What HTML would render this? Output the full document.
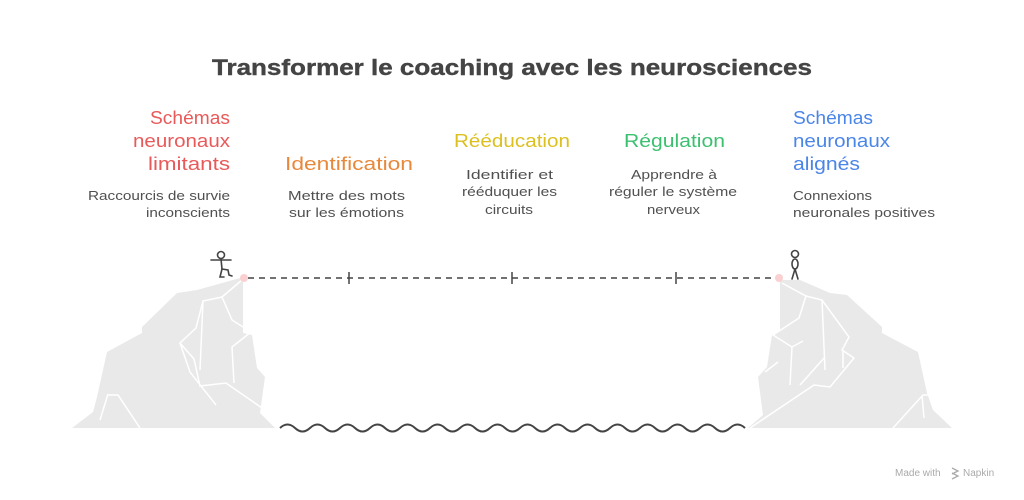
<!DOCTYPE html>
<html><head><meta charset="utf-8"><style>
html,body{margin:0;padding:0;background:#fff;}
svg{display:block;font-family:"Liberation Sans",sans-serif;}
.h{font-size:18px;}
.d{font-size:13px;fill:#505050;}
</style></head><body>
<svg width="1024" height="500" viewBox="0 0 1024 500" xmlns="http://www.w3.org/2000/svg">
<text x="212" y="75" font-size="22" font-weight="bold" fill="#444" stroke="#444" stroke-width="0.4" textLength="600" lengthAdjust="spacingAndGlyphs">Transformer le coaching avec les neurosciences</text>

<g class="h" fill="#e85a5a">
<text x="150" y="124" textLength="80" lengthAdjust="spacingAndGlyphs">Schémas</text>
<text x="133" y="147" textLength="97" lengthAdjust="spacingAndGlyphs">neuronaux</text>
<text x="148" y="170" textLength="82" lengthAdjust="spacingAndGlyphs">limitants</text>
</g>
<text class="h" fill="#e8883a" x="285" y="170" textLength="128" lengthAdjust="spacingAndGlyphs">Identification</text>
<text class="h" fill="#dcc020" x="454" y="147" textLength="116" lengthAdjust="spacingAndGlyphs">Rééducation</text>
<text class="h" fill="#3cc070" x="624" y="147" textLength="101" lengthAdjust="spacingAndGlyphs">Régulation</text>
<g class="h" fill="#4a85e8">
<text x="793" y="124" textLength="80" lengthAdjust="spacingAndGlyphs">Schémas</text>
<text x="793" y="147" textLength="97" lengthAdjust="spacingAndGlyphs">neuronaux</text>
<text x="793" y="170" textLength="67" lengthAdjust="spacingAndGlyphs">alignés</text>
</g>

<g class="d">
<text x="88" y="200" textLength="142" lengthAdjust="spacingAndGlyphs">Raccourcis de survie</text>
<text x="146" y="217" textLength="84" lengthAdjust="spacingAndGlyphs">inconscients</text>
<text x="288" y="200" textLength="117" lengthAdjust="spacingAndGlyphs">Mettre des mots</text>
<text x="289" y="217" textLength="115" lengthAdjust="spacingAndGlyphs">sur les émotions</text>
<text x="466" y="179" textLength="87" lengthAdjust="spacingAndGlyphs">Identifier et</text>
<text x="462" y="196" textLength="95" lengthAdjust="spacingAndGlyphs">rééduquer les</text>
<text x="485" y="214" textLength="48" lengthAdjust="spacingAndGlyphs">circuits</text>
<text x="631" y="179" textLength="86" lengthAdjust="spacingAndGlyphs">Apprendre à</text>
<text x="609" y="196" textLength="128" lengthAdjust="spacingAndGlyphs">réguler le système</text>
<text x="647" y="214" textLength="53" lengthAdjust="spacingAndGlyphs">nerveux</text>
<text x="793" y="200" textLength="79" lengthAdjust="spacingAndGlyphs">Connexions</text>
<text x="793" y="217" textLength="142" lengthAdjust="spacingAndGlyphs">neuronales positives</text>
</g>

<!-- cliffs -->
<polygon fill="#e9e9e9" points="72,428 93,412 97,397 107,352 142,333 142,327 177,293 197,290 240,278 243,278 243,333 252,335 257,368 265,377 260,413 275,428"/>
<g stroke="#fff" stroke-width="1.5" fill="none">
<polyline points="242,280 222,297 203,301 196,328 180,343 194,359 200,386 226,383 262,408"/>
<polyline points="203,301 200,370"/>
<polyline points="222,297 232,320 251,332"/>
<polyline points="251,332 232,347 234,383"/>
<polyline points="180,343 190,372 216,405"/>
<path d="M108,394 L100,420 M108,395 L118,395 L140,428"/>
</g>
<polygon fill="#e9e9e9" points="780,280 800,280 830,293 847,295 882,327 882,333 918,352 927,393 933,410 952,428 748,428 763,415 758,377 767,367 772,335 780,330"/>
<g stroke="#fff" stroke-width="1.5" fill="none">
<polyline points="782,283 806,296 822,300 849,337 842,350 854,358 830,387 814,385 750,428"/>
<polyline points="822,300 825,370"/>
<polyline points="806,296 799,318 773,335 792,347 790,385"/>
<polyline points="792,347 803,341"/>
<polyline points="843,350 843,368"/>
<polyline points="825,357 800,385"/>
<polyline points="778,362 765,372"/>
<path d="M923,395 L893,428 M923,395 L928,395 M922,395 L924,418"/>
</g>

<!-- dashed line -->
<line x1="248" y1="278" x2="775" y2="278" stroke="#444" stroke-width="1.5" stroke-dasharray="6,5"/>
<g stroke="#444" stroke-width="1.5">
<line x1="349" y1="272" x2="349" y2="284"/>
<line x1="512" y1="272" x2="512" y2="284"/>
<line x1="676" y1="272" x2="676" y2="284"/>
</g>
<circle cx="244" cy="278" r="4" fill="#fbd0d0"/>
<circle cx="779" cy="278" r="4" fill="#fbd0d0"/>

<!-- stick figures -->
<g stroke="#444" stroke-width="1.6" fill="none" stroke-linecap="round">
<circle cx="221" cy="255" r="3.5"/>
<line x1="221" y1="259" x2="222" y2="269"/>
<line x1="211" y1="260" x2="231" y2="260"/>
<polyline points="222,269 220,277 224,277"/>
<polyline points="222,269 228,270 229,275 232,276"/>
<circle cx="795" cy="254" r="3.5"/>
<ellipse cx="795" cy="264" rx="3" ry="5"/>
<path d="M795,269 L792,279 M795,269 L798,279"/>
</g>

<!-- wave -->
<path d="M280,428 q7.5,-7 15,0 t15,0 t15,0 t15,0 t15,0 t15,0 t15,0 t15,0 t15,0 t15,0 t15,0 t15,0 t15,0 t15,0 t15,0 t15,0 t15,0 t15,0 t15,0 t15,0 t15,0 t15,0 t15,0 t15,0 t15,0 t15,0 t15,0 t15,0 t15,0 t15,0 t15,0" stroke="#444" stroke-width="2" fill="none"/>

<text x="895" y="476" font-size="10" fill="#aaa">Made with</text>
<path d="M952,468 L958,471 L952,474 M952,473 L958,476 L952,479" stroke="#aaa" stroke-width="1.3" fill="none"/>
<text x="963" y="476" font-size="10" fill="#aaa">Napkin</text>
</svg>
</body></html>
